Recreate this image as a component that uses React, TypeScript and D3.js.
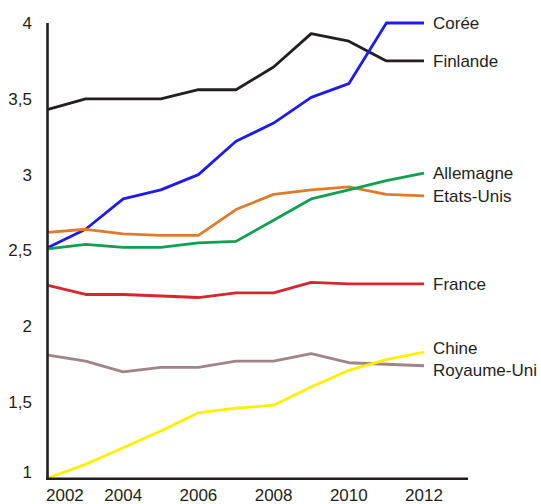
import React from "react";
import * as d3 from "d3";

// R&D spending as % of GDP, 2002-2012
const years = [2002, 2003, 2004, 2005, 2006, 2007, 2008, 2009, 2010, 2011, 2012];
const countries = ["Finlande", "Corée", "Etats-Unis", "Allemagne", "France", "Royaume-Uni", "Chine"];

const finlande = [3.43, 3.5, 3.5, 3.5, 3.56, 3.56, 3.71, 3.93, 3.88, 3.75, 3.75];
const coree = [2.52, 2.64, 2.84, 2.9, 3.0, 3.22, 3.34, 3.51, 3.6, 4.0, 4.0];
const etatsUnis = [2.62, 2.64, 2.61, 2.6, 2.6, 2.77, 2.87, 2.9, 2.92, 2.87, 2.86];
const allemagne = [2.51, 2.54, 2.52, 2.52, 2.55, 2.56, 2.7, 2.84, 2.9, 2.96, 3.01];
const france = [2.27, 2.21, 2.21, 2.2, 2.19, 2.22, 2.22, 2.29, 2.28, 2.28, 2.28];
const royaumeUni = [1.81, 1.77, 1.7, 1.73, 1.73, 1.77, 1.77, 1.82, 1.76, 1.75, 1.74];
const chine = [1.0, 1.09, 1.2, 1.31, 1.43, 1.46, 1.48, 1.6, 1.71, 1.78, 1.83];

const yTicks = [1, 1.5, 2, 2.5, 3, 3.5, 4];
const xTicks = [2002, 2004, 2006, 2008, 2010, 2012];

const values = [finlande, coree, etatsUnis, allemagne, france, royaumeUni, chine];

const colors: Record<string, string> = {
  "Finlande": "#231f20",
  "Corée": "#1c1cf0",
  "Etats-Unis": "#e07b2c",
  "Allemagne": "#10a04f",
  "France": "#d8262e",
  "Royaume-Uni": "#a08487",
  "Chine": "#fff000",
};

const WIDTH = 541;
const HEIGHT = 504;
const LEFT = 48;
const RIGHT = 424;
const TOP = 23;
const BOTTOM = 478;
const AXIS_COLOR = "#231f20";
const FONT = "'Liberation Sans', Arial, sans-serif";

const fr = d3.formatLocale({ decimal: ",", thousands: " ", grouping: [3], currency: ["", " €"] });
const fmt = fr.format(".1~f");

const App = () => {
  const x = d3.scaleLinear().domain([years[0], years[years.length - 1]]).range([LEFT, RIGHT]);
  const y = d3.scaleLinear().domain([1, 4]).range([BOTTOM, TOP]);

  const line = d3
    .line<number>()
    .x((_, i) => x(years[i]))
    .y((d) => y(d));

  // end labels, pushed apart where they collide
  const labels = countries.map((name, i) => ({
    name,
    y: y(values[i][values[i].length - 1]),
  }));
  const sorted = [...labels].sort((a, b) => a.y - b.y);
  const GAP = 22;
  for (let k = 0; k < 5; k++) {
    for (let j = 1; j < sorted.length; j++) {
      const d = sorted[j].y - sorted[j - 1].y;
      if (d < GAP) {
        const push = (GAP - d) / 2;
        sorted[j - 1].y -= push;
        sorted[j].y += push;
      }
    }
  }

  return (
    <svg
      width={WIDTH}
      height={HEIGHT}
      style={{ position: "absolute", left: 0, top: 0, background: "#fff" }}
      fontFamily={FONT}
    >
      {countries.map((name, i) => (
        <path
          key={name}
          d={line(values[i]) || ""}
          fill="none"
          stroke={colors[name]}
          strokeWidth={2.8}
          strokeLinejoin="round"
        />
      ))}

      {/* axes */}
      <line x1={LEFT - 0.5} x2={LEFT - 0.5} y1={TOP} y2={BOTTOM + 2} stroke={AXIS_COLOR} strokeWidth={2.6} />
      <line x1={LEFT - 2} x2={x(2013.17)} y1={BOTTOM + 0.8} y2={BOTTOM + 0.8} stroke={AXIS_COLOR} strokeWidth={2.6} />

      {yTicks.map((v) => (
        <text
          key={v}
          x={32}
          y={Math.min(y(v), BOTTOM - 6)}
          dy="0.35em"
          textAnchor="end"
          fontSize={17}
          fill={AXIS_COLOR}
        >
          {fmt(v)}
        </text>
      ))}

      {xTicks.map((t, i) => (
        <text
          key={t}
          x={i === 0 ? x(t) - 2 : x(t)}
          y={501}
          textAnchor={i === 0 ? "start" : "middle"}
          fontSize={17}
          fill={AXIS_COLOR}
        >
          {t}
        </text>
      ))}

      {labels.map((l) => (
        <text key={l.name} x={RIGHT + 9} y={l.y} dy="0.35em" fontSize={17} fill={AXIS_COLOR}>
          {l.name}
        </text>
      ))}
    </svg>
  );
};

export default App;
